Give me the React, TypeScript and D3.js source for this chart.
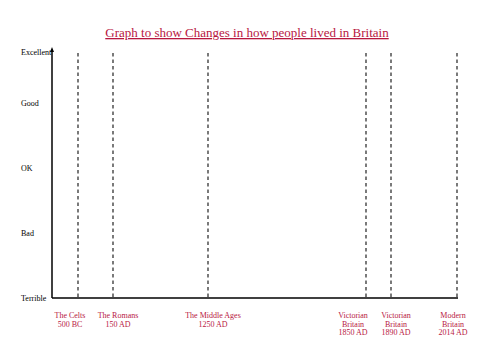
import React, { useEffect, useRef } from "react";
import * as d3 from "d3";

// Eras shown along the bottom (label lines) and the year each stands for
const eraLabels = [
  ["The Celts", "500 BC"],
  ["The Romans", "150 AD"],
  ["The Middle Ages", "1250 AD"],
  ["Victorian", "Britain", "1850 AD"],
  ["Victorian", "Britain", "1890 AD"],
  ["Modern", "Britain", "2014 AD"],
];
const eraYears = [-500, 150, 1250, 1850, 1890, 2014];
// label offsets from the dashed line (the labels were placed by hand)
const labelShift = [-8, 5, 5, -13, 5, -4];

const ratings = ["Terrible", "Bad", "OK", "Good", "Excellent"];

const App = () => {
  const ref = useRef<SVGSVGElement>(null);

  useEffect(() => {
    const svg = d3.select(ref.current);
    svg.selectAll("*").remove();

    const red = "#b8173f";
    const font = "'Liberation Serif', 'Times New Roman', serif";

    const x0 = 52;
    const yBottom = 298;
    const yTop = 47;
    const xEnd = 458;

    // the eras are not evenly spaced in time on the original, so a piecewise scale
    const x = d3
      .scaleLinear()
      .domain(eraYears)
      .range([78, 113, 208, 366, 391, 457]);

    const y = d3
      .scaleOrdinal<string, number>()
      .domain(ratings)
      .range([298, 233, 168, 103, 52]);

    // Title
    svg
      .append("text")
      .attr("x", 247)
      .attr("y", 37)
      .attr("text-anchor", "middle")
      .style("font-family", font)
      .style("font-size", "13px")
      .style("fill", red)
      .style("text-decoration", "underline")
      .text("Graph to show Changes in how people lived in Britain");

    // dashed era lines
    svg
      .selectAll(".era")
      .data(eraYears)
      .enter()
      .append("line")
      .attr("x1", (d) => x(d))
      .attr("x2", (d) => x(d))
      .attr("y1", 53)
      .attr("y2", yBottom)
      .attr("stroke", "#222")
      .attr("stroke-width", 1.2)
      .attr("stroke-dasharray", "3.5,3");

    // axes
    svg
      .append("line")
      .attr("x1", x0)
      .attr("x2", x0)
      .attr("y1", yBottom)
      .attr("y2", yTop + 3)
      .attr("stroke", "#000")
      .attr("stroke-width", 1.5);
    svg
      .append("path")
      .attr("d", `M${x0 - 2},${yTop + 5}L${x0},${yTop}L${x0 + 2},${yTop + 5}Z`)
      .attr("fill", "#000");
    svg
      .append("line")
      .attr("x1", x0)
      .attr("x2", xEnd)
      .attr("y1", yBottom)
      .attr("y2", yBottom)
      .attr("stroke", "#000")
      .attr("stroke-width", 1.5);

    // rating labels
    svg
      .selectAll(".rating")
      .data(ratings)
      .enter()
      .append("text")
      .attr("x", 21)
      .attr("y", (d) => y(d) + 3)
      .style("font-family", font)
      .style("font-size", "8px")
      .style("fill", "#000")
      .text((d) => d);

    // era labels
    const lbl = svg
      .selectAll(".eraLabel")
      .data(eraLabels)
      .enter()
      .append("text")
      .attr("text-anchor", "middle")
      .style("font-family", font)
      .style("font-size", "8px")
      .style("fill", red);
    lbl
      .selectAll("tspan")
      .data((d, i) => d.map((t) => ({ t, i })))
      .enter()
      .append("tspan")
      .attr("x", (d) => x(eraYears[d.i]) + labelShift[d.i])
      .attr("y", (d, j) => 318 + j * 8.6)
      .text((d) => d.t);
  }, []);

  return <svg ref={ref} width={500} height={354} style={{ display: "block", position: "absolute", left: 0, top: 0 }} />;
};

export default App;
